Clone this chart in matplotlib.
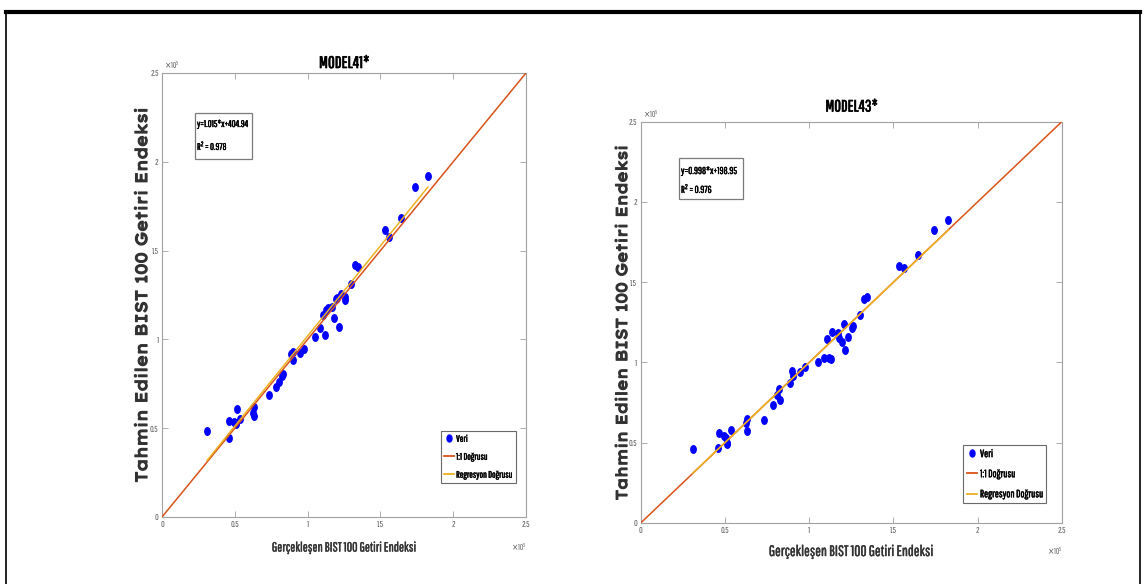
import numpy as np
import matplotlib
matplotlib.use("Agg")
import matplotlib.pyplot as plt
import matplotlib.patheffects as pe
from matplotlib import font_manager as fm
from matplotlib.path import Path
from matplotlib.lines import Line2D
from matplotlib.patches import Rectangle
from matplotlib.ticker import FuncFormatter, FixedLocator

# ---- data (index values in units of 10^5) ----
SCALE = 1e5
actual = [0.309, 0.461, 0.463, 0.494, 0.507, 0.511, 0.514, 0.538, 0.625, 0.629,
          0.633, 0.733, 0.785, 0.806, 0.822, 0.828, 0.888, 0.900, 0.903, 0.948,
          0.972, 1.053, 1.087, 1.104, 1.120, 1.128, 1.137, 1.170, 1.178, 1.193,
          1.205, 1.215, 1.228, 1.256, 1.259, 1.299, 1.325, 1.343, 1.534, 1.562,
          1.644, 1.740, 1.826]
pred_m41 = [0.484, 0.443, 0.542, 0.535, 0.525, 0.530, 0.610, 0.550, 0.585, 0.570,
            0.619, 0.687, 0.734, 0.762, 0.796, 0.805, 0.916, 0.928, 0.884, 0.922,
            0.944, 1.012, 1.062, 1.136, 1.026, 1.166, 1.175, 1.181, 1.122, 1.227,
            1.235, 1.072, 1.254, 1.222, 1.240, 1.310, 1.417, 1.406, 1.618, 1.575,
            1.684, 1.860, 1.920]
pred_m43 = [0.458, 0.464, 0.560, 0.543, 0.529, 0.489, 0.496, 0.576, 0.620, 0.572,
            0.649, 0.641, 0.734, 0.794, 0.835, 0.767, 0.871, 0.947, 0.914, 0.939,
            0.974, 1.001, 1.026, 1.144, 1.026, 1.024, 1.188, 1.180, 1.153, 1.124,
            1.239, 1.078, 1.157, 1.215, 1.227, 1.298, 1.397, 1.410, 1.603, 1.586,
            1.667, 1.826, 1.884]

titles = ["MODEL41*", "MODEL43*"]
slopes = [1.015, 0.998]
intercepts = [404.94, 198.95]
r2_values = [0.978, 0.976]
ticks = [0, 0.5, 1, 1.5, 2, 2.5]
xlabel = "Gerçekleşen BIST 100 Getiri Endeksi"
ylabel = "Tahmin Edilen BIST 100 Getiri Endeksi"
legend_labels = ["Veri", "1:1 Doğrusu", "Regresyon Doğrusu"]

# ---- style ----
C_DATA = "#0000FF"
C_ONE = "#D95319"
C_REG = "#EDB120"
C_AX = "#a0a0a0"
C_TXT = "#555555"
C_LAB = "#333333"


def pick_family(candidates):
    available = {f.name for f in fm.fontManager.ttflist}
    for name in candidates:
        if name in available:
            return name
    return "DejaVu Sans"


NARROW = pick_family(["Pathway Gothic One", "Antonio", "Saira Extra Condensed",
                      "Fira Sans Extra Condensed", "Barlow Condensed", "Oswald",
                      "Roboto Condensed", "Liberation Sans Narrow"])
WIDE = pick_family(["Lexend Exa", "Lexend Giga", "Lexend Mega", "Krona One",
                    "Michroma", "DejaVu Sans"])


def heavy(width, color):
    # thicken glyph strokes a little
    return [pe.withStroke(linewidth=width, foreground=color)]


t = np.linspace(0, 2 * np.pi, 40)
dot = Path(np.column_stack([0.72 * np.cos(t), np.sin(t)]), closed=True)

W, H = 1145, 584
fig = plt.figure(figsize=(W / 100, H / 100), dpi=100)
renderer = fig.canvas.get_renderer()


def fit_size(s, width_px, family, weight="normal"):
    probe = fig.text(0, 0, s, fontsize=10, family=family, fontweight=weight)
    w = probe.get_window_extent(renderer=renderer).width
    probe.remove()
    return 10.0 * width_px / w


def frac(x0, y0, x1, y1):
    return [x0 / W, 1 - y1 / H, (x1 - x0) / W, (y1 - y0) / H]


panels = [
    dict(px=(162, 73, 526, 517), y=pred_m41, title_y=63, title_w=50,
         xlab_y=548, xlab_w=143, ylab_x=143, ylab_len=376,
         box=(195, 113, 252, 159), box_rows=(124, 145), eq_w=51,
         leg_anchor=(441, 483), leg_w=56),
    dict(px=(640.7, 121.5, 1062, 523), y=pred_m43, title_y=107, title_w=52,
         xlab_y=552, xlab_w=163, ylab_x=623, ylab_len=356,
         box=(679, 158, 743, 199), box_rows=(171, 188), eq_w=56,
         leg_anchor=(963, 503), leg_w=63),
]

lim = 2.5 * SCALE
for i, p in enumerate(panels):
    x0, y0, x1, y1 = p["px"]
    aw, ah = x1 - x0, y1 - y0
    ax = fig.add_axes(frac(x0, y0, x1, y1))
    xs = np.array(actual) * SCALE
    ys = np.array(p["y"]) * SCALE

    ax.plot(xs, ys, linestyle="none", marker=dot, markersize=5.4,
            color=C_DATA, zorder=2)
    ax.plot([0, lim], [0, lim], color=C_ONE, lw=1.1, zorder=3)
    xr = np.array([xs.min(), xs.max()])
    ax.plot(xr, slopes[i] * xr + intercepts[i], color=C_REG, lw=1.1, zorder=4)

    ax.set_xlim(0, lim)
    ax.set_ylim(0, lim)
    ax.xaxis.set_major_locator(FixedLocator([v * SCALE for v in ticks]))
    ax.yaxis.set_major_locator(FixedLocator([v * SCALE for v in ticks]))
    fmt = FuncFormatter(lambda v, pos: "%g" % (v / SCALE))
    ax.xaxis.set_major_formatter(fmt)
    ax.yaxis.set_major_formatter(fmt)
    ax.tick_params(direction="in", length=4, width=0.6, color=C_AX,
                   labelsize=6.5, labelcolor=C_TXT, pad=2.5,
                   top=True, right=True)
    for lab in ax.get_xticklabels() + ax.get_yticklabels():
        lab.set_family(NARROW)
    for s in ax.spines.values():
        s.set_color(C_AX)
        s.set_linewidth(0.8)

    # exponent markers
    ax.text(0.005, 1.004, r"$\times\mathregular{10^5}$", transform=ax.transAxes,
            fontsize=5.5, color=C_TXT, ha="left", va="bottom", family=NARROW)
    ax.text(1.0, -0.055, r"$\times\mathregular{10^5}$", transform=ax.transAxes,
            fontsize=5.5, color=C_TXT, ha="right", va="top", family=NARROW)

    # title
    fs = fit_size(titles[i], p["title_w"], NARROW, "bold")
    ax.text(0.5, 1 + (y0 - p["title_y"]) / ah, titles[i], transform=ax.transAxes,
            ha="center", va="center", fontsize=fs, fontweight="bold", family=NARROW,
            path_effects=heavy(0.5, "black"))

    # axis labels
    fs = fit_size(xlabel, p["xlab_w"], NARROW, "bold")
    ax.set_xlabel(xlabel, fontsize=fs, fontweight="bold", family=NARROW,
                  color=C_LAB, va="center", path_effects=heavy(0.3, C_LAB))
    ax.xaxis.set_label_coords(0.5, (y1 - p["xlab_y"]) / ah)
    fs = fit_size(ylabel, p["ylab_len"], WIDE, "bold")
    ax.set_ylabel(ylabel, fontsize=fs, fontweight="bold", family=WIDE,
                  color=C_LAB, va="center", ha="center",
                  path_effects=heavy(0.9, C_LAB))
    ax.yaxis.set_label_coords((p["ylab_x"] - x0) / aw, 0.5)

    # equation box
    bx0, by0, bx1, by1 = p["box"]
    ax.add_patch(Rectangle(((bx0 - x0) / aw, (y1 - by1) / ah),
                           (bx1 - bx0) / aw, (by1 - by0) / ah,
                           transform=ax.transAxes, fc="white", ec="#7a7a7a",
                           lw=0.9, zorder=5))
    eq = "y=%g*x+%.2f" % (slopes[i], intercepts[i])
    fs = fit_size(eq, p["eq_w"], NARROW, "bold")
    ax.text((bx0 + 2 - x0) / aw, (y1 - p["box_rows"][0]) / ah, eq,
            transform=ax.transAxes, fontsize=fs, fontweight="bold",
            family=NARROW, va="center", ha="left", zorder=6,
            path_effects=heavy(0.3, "black"))
    ax.text((bx0 + 2 - x0) / aw, (y1 - p["box_rows"][1]) / ah,
            "$\\mathregular{R^2}$ = %.3f" % r2_values[i],
            transform=ax.transAxes, fontsize=fs, fontweight="bold",
            family=NARROW, va="center", ha="left", zorder=6,
            path_effects=heavy(0.3, "black"))

    # legend
    fs = fit_size(legend_labels[2], p["leg_w"], NARROW, "bold")
    handles = [
        Line2D([], [], linestyle="none", marker=dot, markersize=5, color=C_DATA),
        Line2D([], [], color=C_ONE, lw=1.3),
        Line2D([], [], color=C_REG, lw=1.3),
    ]
    ax_anchor = ((p["leg_anchor"][0] - x0) / aw, (y1 - p["leg_anchor"][1]) / ah)
    leg = ax.legend(handles, legend_labels, loc="lower left",
                    bbox_to_anchor=ax_anchor, fancybox=False, framealpha=1,
                    edgecolor="#6a6a6a",
                    prop=dict(family=NARROW, size=fs, weight="bold"),
                    handlelength=1.0, handletextpad=0.25, borderpad=0.35,
                    labelspacing=0.95, borderaxespad=0)
    leg.get_frame().set_linewidth(0.8)
    leg.set_zorder(6)
    for txt in leg.get_texts():
        txt.set_path_effects(heavy(0.3, "black"))

# page frame around both panels
fig.add_artist(Line2D([6 / W, 1140 / W], [1 - 12 / H, 1 - 12 / H], color="black", lw=3))
fig.add_artist(Line2D([6 / W, 6 / W], [0, 1 - 12 / H], color="black", lw=1.2))
fig.add_artist(Line2D([1140 / W, 1140 / W], [0, 1 - 12 / H], color="black", lw=1.2))

fig.savefig("out.png", dpi=100)
